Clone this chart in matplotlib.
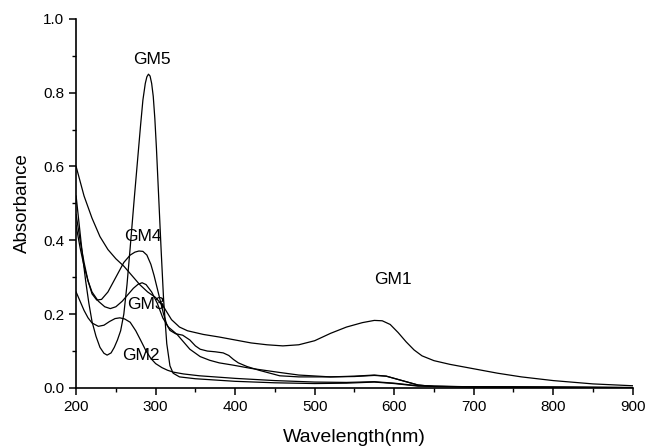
import matplotlib
matplotlib.use("Agg")
import matplotlib.pyplot as plt
from matplotlib.ticker import MultipleLocator

plt.rcParams["font.family"] = ["Liberation Sans", "DejaVu Sans"]

# absorbance spectra (wavelength nm, absorbance)
gm1_x = [200, 205, 210, 220, 230, 240, 250, 260, 270, 280, 290, 300, 310, 320,
         330, 340, 360, 380, 400, 420, 440, 460, 480, 500, 520, 540, 560, 575,
         585, 595, 605, 615, 625, 635, 650, 670, 700, 730, 760, 800, 850, 900]
gm1_y = [0.60, 0.56, 0.52, 0.46, 0.41, 0.375, 0.35, 0.33, 0.305, 0.28, 0.26,
         0.245, 0.22, 0.185, 0.165, 0.155, 0.145, 0.138, 0.13, 0.122, 0.117,
         0.114, 0.117, 0.128, 0.148, 0.165, 0.177, 0.183, 0.182, 0.172, 0.15,
         0.125, 0.103, 0.087, 0.074, 0.064, 0.052, 0.04, 0.03, 0.02, 0.011, 0.006]

gm2_x = [200, 205, 210, 215, 220, 228, 235, 242, 249, 255, 261, 268, 275, 281,
         288, 294, 300, 308, 315, 322, 335, 355, 400, 450, 500, 540, 575, 600,
         630, 700, 900]
gm2_y = [0.26, 0.235, 0.21, 0.19, 0.176, 0.167, 0.17, 0.18, 0.188, 0.19, 0.187,
         0.178, 0.155, 0.13, 0.10, 0.08, 0.066, 0.055, 0.048, 0.043, 0.038,
         0.033, 0.026, 0.02, 0.016, 0.015, 0.017, 0.013, 0.006, 0.003, 0.001]

gm3_x = [200, 205, 210, 215, 220, 228, 236, 243, 250, 258, 266, 272, 278, 283,
         288, 295, 302, 309, 316, 327, 335, 343, 356, 368, 380, 397, 420, 456,
         480, 520, 550, 575, 590, 610, 630, 650, 700, 900]
gm3_y = [0.44, 0.38, 0.33, 0.29, 0.26, 0.235, 0.22, 0.215, 0.22, 0.235, 0.255,
         0.27, 0.281, 0.285, 0.28, 0.26, 0.23, 0.19, 0.165, 0.145, 0.125,
         0.105, 0.085, 0.075, 0.068, 0.062, 0.053, 0.042, 0.035, 0.03, 0.031,
         0.034, 0.032, 0.02, 0.008, 0.004, 0.003, 0.001]

gm4_x = [200, 205, 210, 215, 220, 226, 232, 240, 250, 260, 268, 274, 279, 284,
         289, 294, 298, 302, 306, 310, 314, 318, 325, 334, 343, 350, 356, 365,
         375, 385, 392, 398, 404, 415, 430, 456, 480, 520, 550, 575, 590, 610,
         630, 650, 700, 900]
gm4_y = [0.47, 0.40, 0.34, 0.29, 0.255, 0.238, 0.24, 0.26, 0.30, 0.34, 0.36,
         0.368, 0.371, 0.37, 0.36, 0.335, 0.305, 0.27, 0.235, 0.2, 0.172, 0.156,
         0.147, 0.143, 0.13, 0.114, 0.105, 0.1, 0.098, 0.095, 0.088, 0.077,
         0.068, 0.058, 0.048, 0.033, 0.03, 0.03, 0.032, 0.035, 0.032, 0.02,
         0.008, 0.004, 0.003, 0.001]

gm5_x = [200, 204, 208, 212, 216, 220, 225, 230, 235, 239, 244, 248, 252, 256,
         260, 264, 268, 273, 277, 281, 284, 287, 289, 291, 293, 295, 297, 299,
         301, 304, 307, 310, 314, 318, 322, 330, 350, 400, 450, 500, 540, 575,
         600, 630, 700, 900]
gm5_y = [0.52, 0.44, 0.36, 0.29, 0.23, 0.18, 0.14, 0.11, 0.094, 0.089, 0.095,
         0.11, 0.13, 0.155, 0.20, 0.28, 0.38, 0.51, 0.61, 0.71, 0.78, 0.825,
         0.843, 0.85, 0.845, 0.825, 0.79, 0.73, 0.65, 0.51, 0.37, 0.24, 0.12,
         0.06, 0.04, 0.03, 0.025, 0.018, 0.014, 0.012, 0.013, 0.016, 0.012,
         0.005, 0.003, 0.001]

labels = ["GM1", "GM2", "GM3", "GM4", "GM5"]
label_x = [598, 281, 288, 284, 295]
label_y = [0.293, 0.087, 0.225, 0.41, 0.89]

fig = plt.figure(figsize=(6.45, 4.48), dpi=100)
ax = fig.add_axes([0.118, 0.134, 0.863, 0.824])

for xs, ys in [(gm1_x, gm1_y), (gm2_x, gm2_y), (gm3_x, gm3_y),
               (gm4_x, gm4_y), (gm5_x, gm5_y)]:
    ax.plot(xs, ys, color="black", lw=0.9)

for name, lx, ly in zip(labels, label_x, label_y):
    ax.text(lx, ly, name, fontsize=12.5, ha="center", va="center")

ax.set_xlim(200, 900)
ax.set_ylim(0, 1.0)
ax.xaxis.set_major_locator(MultipleLocator(100))
ax.xaxis.set_minor_locator(MultipleLocator(50))
ax.yaxis.set_major_locator(MultipleLocator(0.2))
ax.yaxis.set_minor_locator(MultipleLocator(0.1))
ax.yaxis.set_major_formatter(matplotlib.ticker.FormatStrFormatter("%.1f"))

for side in ["top", "right"]:
    ax.spines[side].set_visible(False)
for side in ["left", "bottom"]:
    ax.spines[side].set_linewidth(1.2)

ax.tick_params(which="major", direction="out", length=5, width=1.1,
               labelsize=11)
ax.tick_params(which="minor", direction="out", length=3, width=1.0)

ax.set_xlabel("Wavelength(nm)", fontsize=14, labelpad=11)
ax.set_ylabel("Absorbance", fontsize=13.5, labelpad=9)

fig.savefig("out.png", dpi=100)
